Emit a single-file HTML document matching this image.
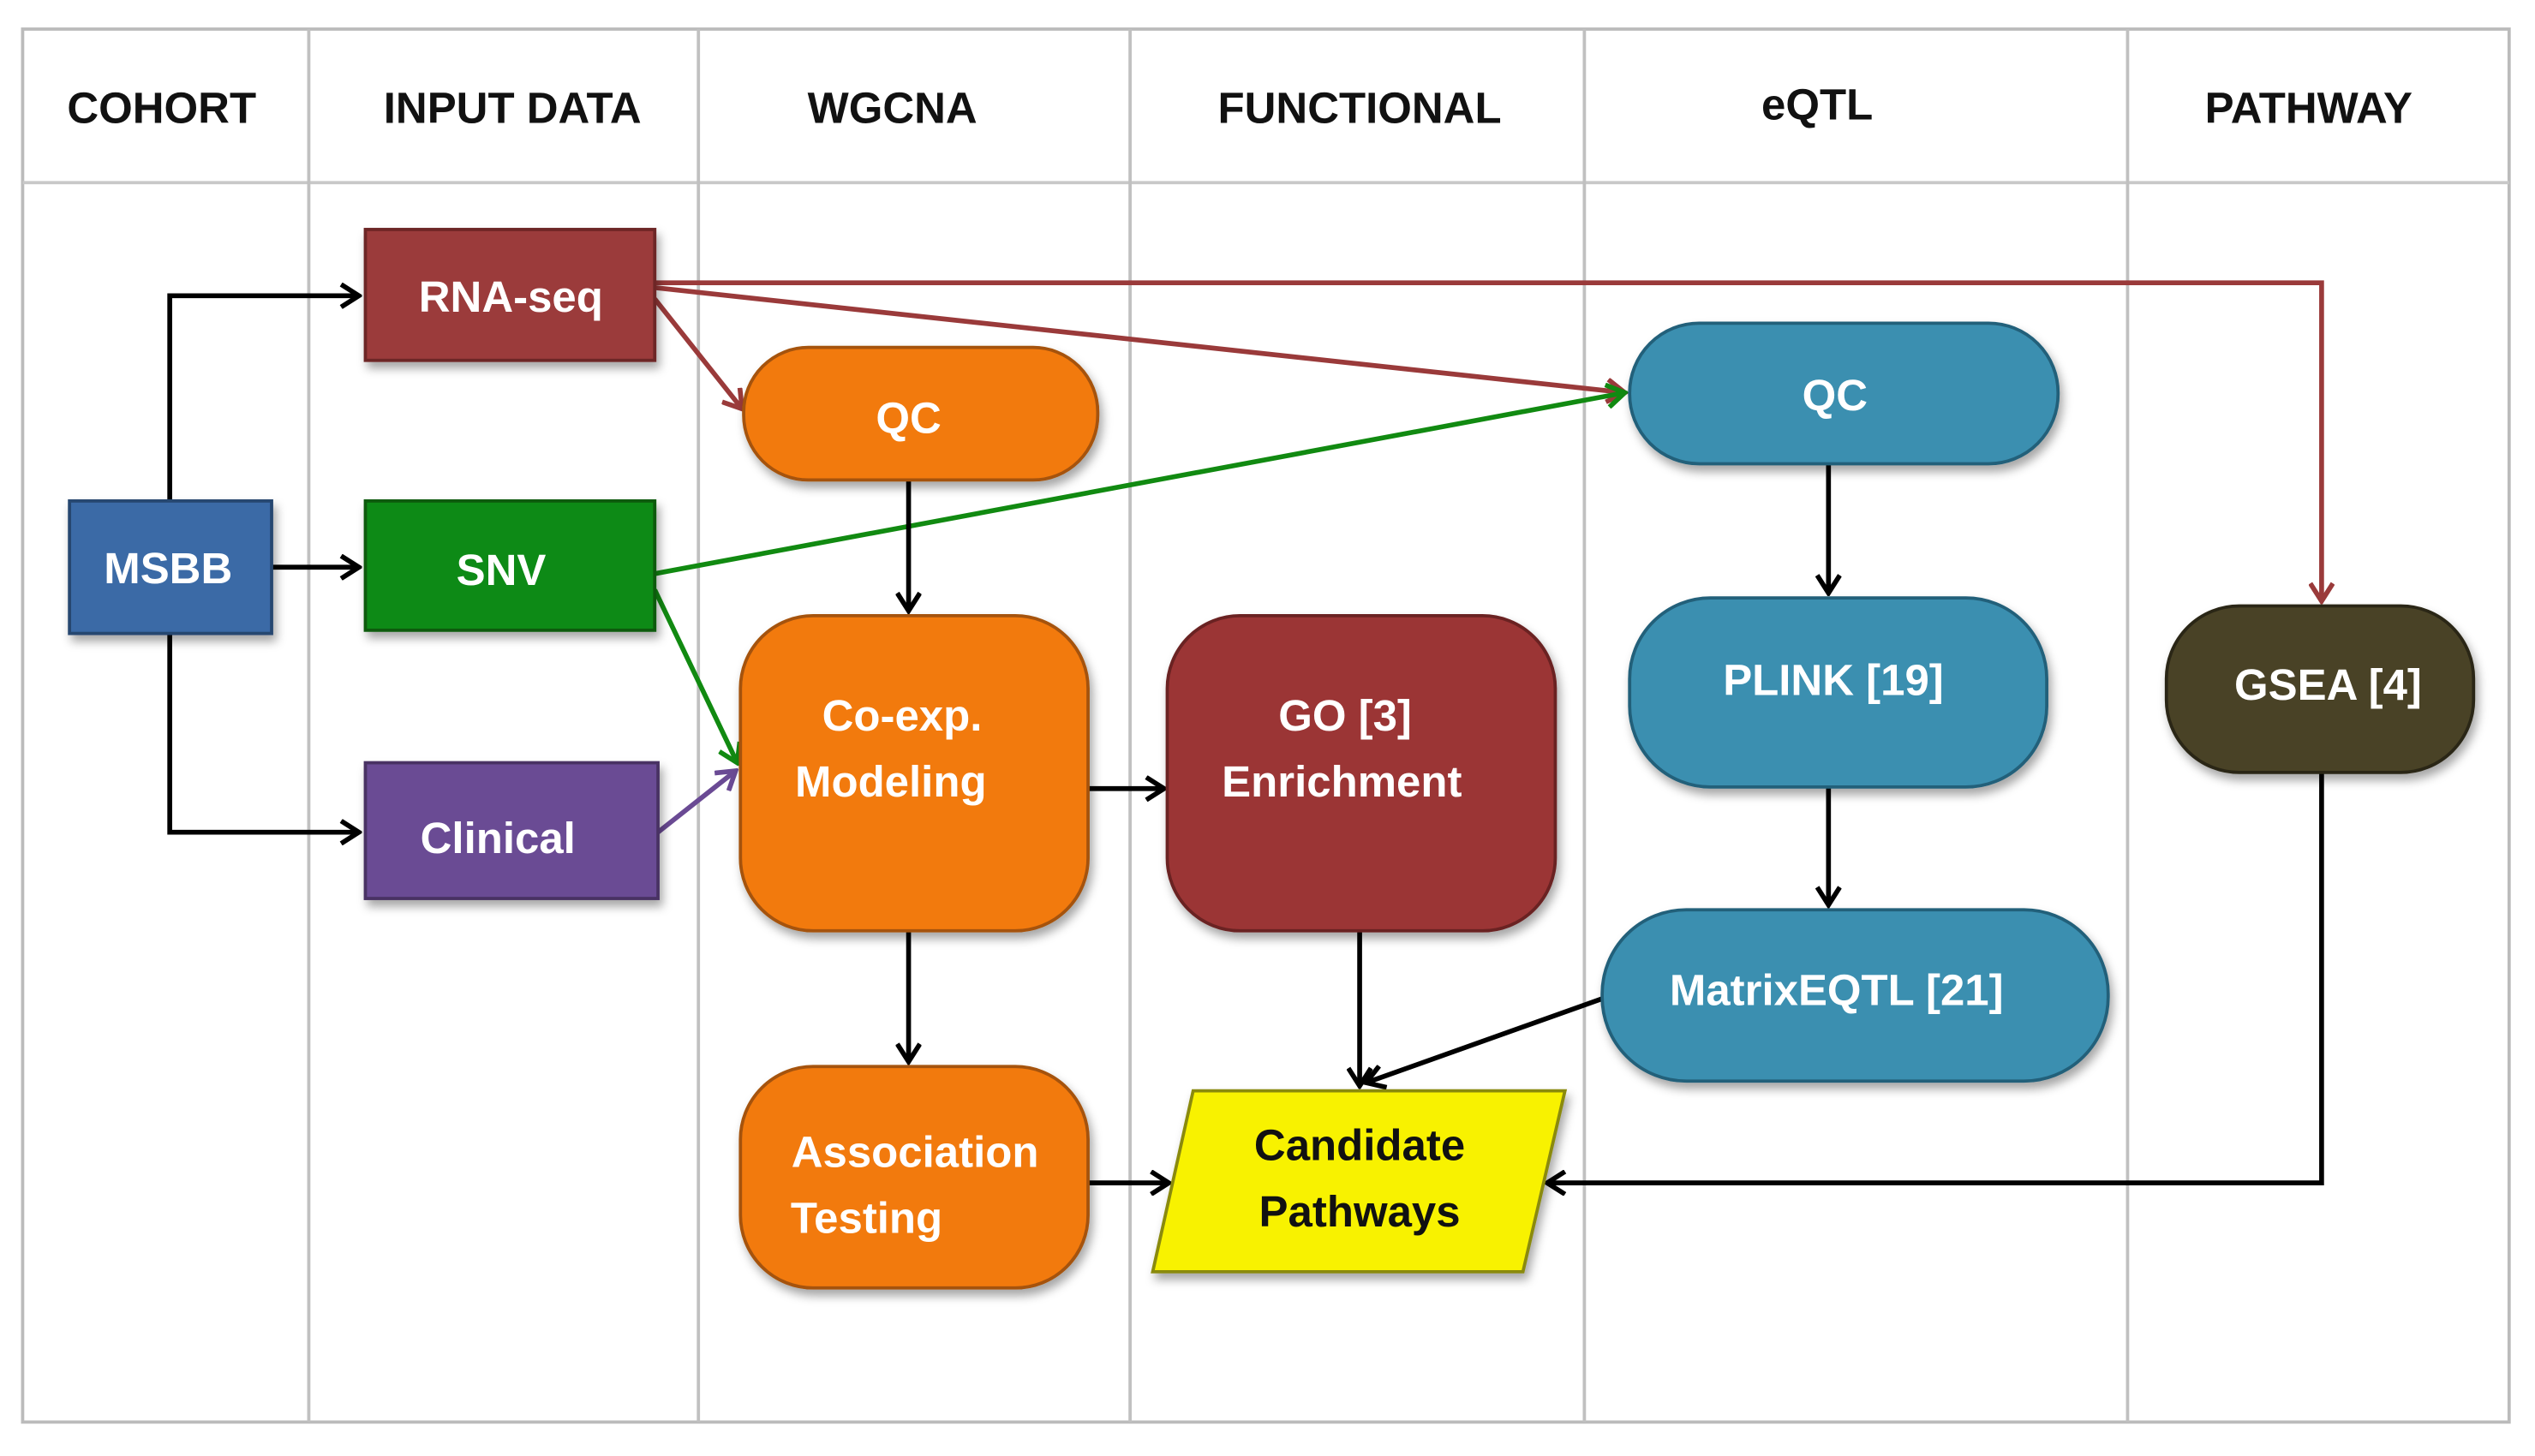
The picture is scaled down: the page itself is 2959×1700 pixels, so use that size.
<!DOCTYPE html>
<html><head><meta charset="utf-8"><style>
html,body{margin:0;padding:0;background:#fff}
svg{display:block}
text{font-family:"Liberation Sans",sans-serif;font-weight:bold}
</style></head><body>
<svg width="2959" height="1700" viewBox="0 0 1568 901" preserveAspectRatio="none" xmlns="http://www.w3.org/2000/svg">
<defs>
<marker id="ak" markerWidth="10" markerHeight="10" refX="9" refY="5" orient="auto" markerUnits="userSpaceOnUse"><path d="M0,-3 L11,5 L0,13" transform="scale(0.9) translate(0,0)" fill="none" stroke="#000" stroke-width="3"/></marker>
<marker id="ar" markerWidth="14" markerHeight="16" refX="12" refY="8" orient="auto" markerUnits="userSpaceOnUse"><path d="M1,1 L12,8 L1,15" fill="none" stroke="#9a3a3a" stroke-width="3"/></marker>
<marker id="ab" markerWidth="14" markerHeight="16" refX="12" refY="8" orient="auto" markerUnits="userSpaceOnUse"><path d="M1,1 L12,8 L1,15" fill="none" stroke="#000" stroke-width="3"/></marker>
<marker id="ag" markerWidth="14" markerHeight="16" refX="12" refY="8" orient="auto" markerUnits="userSpaceOnUse"><path d="M1,1 L12,8 L1,15" fill="none" stroke="#118a11" stroke-width="3"/></marker>
<marker id="ap" markerWidth="14" markerHeight="16" refX="12" refY="8" orient="auto" markerUnits="userSpaceOnUse"><path d="M1,1 L12,8 L1,15" fill="none" stroke="#6a4a94" stroke-width="3"/></marker>
<filter id="sh" x="-10%" y="-10%" width="130%" height="140%"><feDropShadow dx="2" dy="4" stdDeviation="3" flood-color="#000" flood-opacity="0.35"/></filter>
</defs>
<!-- table -->
<rect x="14" y="18" width="1538" height="862" fill="#fff" stroke="#bbb" stroke-width="2"/>
<line x1="14" y1="113" x2="1552" y2="113" stroke="#c8c8c8" stroke-width="2"/>
<g stroke="#c0c0c0" stroke-width="2">
<line x1="191" y1="18" x2="191" y2="880"/><line x1="432" y1="18" x2="432" y2="880"/>
<line x1="699" y1="18" x2="699" y2="880"/><line x1="980" y1="18" x2="980" y2="880"/>
<line x1="1316" y1="18" x2="1316" y2="880"/>
</g>
<g font-size="27" fill="#111" text-anchor="middle">
<text x="100" y="76">COHORT</text><text x="317" y="76">INPUT DATA</text>
<text x="552" y="76">WGCNA</text><text x="841" y="76">FUNCTIONAL</text>
<text x="1124" y="74">eQTL</text><text x="1428" y="76">PATHWAY</text>
</g>
<!-- connectors -->
<g fill="none" stroke-width="3">
<polyline points="105,310 105,183 222,183" stroke="#000" marker-end="url(#ab)"/>
<line x1="168" y1="351" x2="222" y2="351" stroke="#000" marker-end="url(#ab)"/>
<polyline points="105,392 105,515 222,515" stroke="#000" marker-end="url(#ab)"/>
<polyline points="405,175 1436,175 1436,372" stroke="#9a3a3a" marker-end="url(#ar)"/>
<line x1="405" y1="178" x2="1005" y2="243" stroke="#9a3a3a" marker-end="url(#ar)"/>
<line x1="405" y1="185" x2="459" y2="253" stroke="#9a3a3a" marker-end="url(#ar)"/>
<line x1="405" y1="355" x2="1005" y2="243" stroke="#118a11" marker-end="url(#ag)"/>
<line x1="405" y1="365" x2="456" y2="472" stroke="#118a11" marker-end="url(#ag)"/>
<line x1="407" y1="515" x2="455" y2="477" stroke="#6a4a94" marker-end="url(#ap)"/>
<line x1="562" y1="297" x2="562" y2="378" stroke="#000" marker-end="url(#ab)"/>
<line x1="673" y1="488" x2="720" y2="488" stroke="#000" marker-end="url(#ab)"/>
<line x1="562" y1="576" x2="562" y2="657" stroke="#000" marker-end="url(#ab)"/>
<line x1="673" y1="732" x2="723" y2="732" stroke="#000" marker-end="url(#ab)"/>
<line x1="841" y1="576" x2="841" y2="672" stroke="#000" marker-end="url(#ab)"/>
<line x1="991" y1="618" x2="845" y2="670" stroke="#000" marker-end="url(#ab)"/>
<polyline points="1436,478 1436,732 957,732" stroke="#000" marker-end="url(#ab)"/>
<line x1="1131" y1="287" x2="1131" y2="367" stroke="#000" marker-end="url(#ab)"/>
<line x1="1131" y1="487" x2="1131" y2="560" stroke="#000" marker-end="url(#ab)"/>
</g>
<!-- nodes -->
<g filter="url(#sh)">
<rect x="226" y="142" width="179" height="81" fill="#9b3a3a" stroke="#6d2626" stroke-width="2"/>
<rect x="43" y="310" width="125" height="82" fill="#3b6aa6" stroke="#26466f" stroke-width="2"/>
<rect x="226" y="310" width="179" height="80" fill="#108a14" stroke="#0a5a0c" stroke-width="2"/>
<rect x="226" y="472" width="181" height="84" fill="#6b4b94" stroke="#483264" stroke-width="2"/>
<rect x="460" y="215" width="219" height="82" rx="40" fill="#f27a10" stroke="#a55208" stroke-width="2"/>
<rect x="458" y="381" width="215" height="195" rx="45" fill="#f27a10" stroke="#a55208" stroke-width="2"/>
<rect x="722" y="381" width="240" height="195" rx="45" fill="#9b3535" stroke="#6b2222" stroke-width="2"/>
<rect x="458" y="660" width="215" height="137" rx="45" fill="#f27a10" stroke="#a55208" stroke-width="2"/>
<polygon points="738,675 968,675 942,787 713,787" fill="#f8f200" stroke="#8a8a10" stroke-width="2"/>
<rect x="1008" y="200" width="265" height="87" rx="43" fill="#3a8fb0" stroke="#24607a" stroke-width="2"/>
<rect x="1008" y="370" width="258" height="117" rx="50" fill="#3a8fb0" stroke="#24607a" stroke-width="2"/>
<rect x="991" y="563" width="313" height="106" rx="52" fill="#3a8fb0" stroke="#24607a" stroke-width="2"/>
<rect x="1340" y="375" width="190" height="103" rx="45" fill="#4a4326" stroke="#2c2815" stroke-width="2"/>
</g>
<g font-size="27" fill="#fff" text-anchor="middle">
<text x="316" y="193">RNA-seq</text>
<text x="104" y="361">MSBB</text>
<text x="310" y="362">SNV</text>
<text x="308" y="528">Clinical</text>
<text x="562" y="268">QC</text>
<text x="558" y="452">Co-exp.</text>
<text x="551" y="493">Modeling</text>
<text x="832" y="452">GO [3]</text>
<text x="830" y="493">Enrichment</text>
<text x="566" y="722">Association</text>
<text x="536" y="763">Testing</text>
<text x="1135" y="254">QC</text>
<text x="1134" y="430">PLINK [19]</text>
<text x="1136" y="622">MatrixEQTL [21]</text>
<text x="1440" y="433">GSEA [4]</text>
</g>
<g font-size="27" fill="#111" text-anchor="middle">
<text x="841" y="718">Candidate</text>
<text x="841" y="759">Pathways</text>
</g>
</svg>
</body></html>
